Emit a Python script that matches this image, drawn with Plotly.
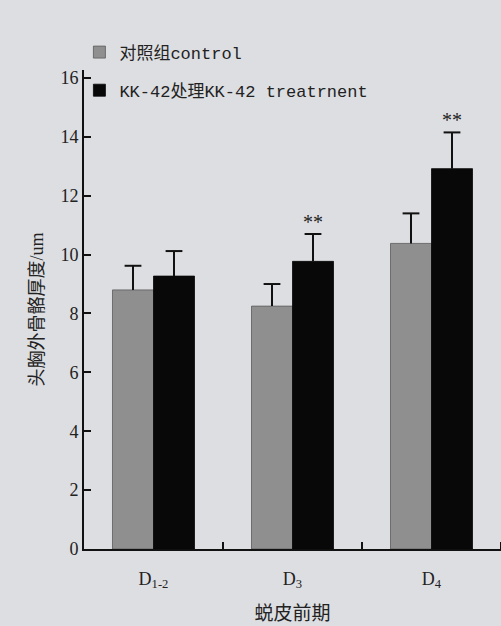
import plotly.graph_objects as go

categories = ["D<sub>1-2</sub>", "D<sub>3</sub>", "D<sub>4</sub>"]
control = [8.80, 8.25, 10.38]
control_err = [0.82, 0.75, 1.02]
treatment = [9.27, 9.77, 12.92]
treatment_err = [0.85, 0.93, 1.23]
significance = ["", "**", "**"]

xpos = list(range(len(categories)))
bg = "#dddee1"
serif = "Liberation Serif, Noto Sans CJK SC, serif"
mono = "Liberation Mono, Noto Sans CJK SC, monospace"
bargap = 0.41
bar_w = (1 - bargap) / 2

fig = go.Figure()
series = [
    ("对照组control", control, control_err, "#8f8f8f", "#5a5a5a", -1, "a"),
    ("KK-42处理KK-42 treatrnent", treatment, treatment_err, "#080808", "#080808", 1, "b"),
]
for name, vals, errs, col, lcol, side, grp in series:
    fig.add_trace(go.Bar(
        x=xpos, y=vals, name=name, legendgroup=grp,
        marker=dict(color=col, line=dict(color=lcol, width=0.8)),
        error_y=dict(type="data", array=errs, arrayminus=[0] * len(errs), symmetric=False,
                     color="#111111", thickness=2, width=0),
    ))
for name, vals, errs, col, lcol, side, grp in series:
    fig.add_trace(go.Scatter(
        x=[x + side * bar_w / 2 for x in xpos],
        y=[v + e for v, e in zip(vals, errs)],
        mode="markers", showlegend=False, hoverinfo="skip",
        marker=dict(symbol="line-ew", size=12, line=dict(color="#111111", width=2)),
    ))

for i, s in enumerate(significance):
    if s:
        fig.add_annotation(x=xpos[i] + bar_w / 2, y=treatment[i] + treatment_err[i],
                           text=s, showarrow=False, yanchor="bottom", yshift=-1,
                           font=dict(family=serif, size=20, color="#222222"))

fig.update_layout(
    width=501, height=626,
    paper_bgcolor=bg, plot_bgcolor=bg,
    margin=dict(l=84, r=0, t=70, b=77, autoexpand=False),
    barmode="group", bargap=bargap, bargroupgap=0,
    showlegend=True,
    legend=dict(x=-0.011, y=1.074, xanchor="left", yanchor="top",
                bgcolor="rgba(0,0,0,0)", tracegroupgap=13,
                font=dict(family=mono, size=17, color="#222222")),
    xaxis=dict(range=[-0.5, 2.5], tickvals=xpos, ticktext=categories, ticks="",
               showline=True, linecolor="#111111", linewidth=2, showgrid=False,
               zeroline=False, ticklabelstandoff=12, automargin=False,
               tickfont=dict(family=serif, size=18, color="#222222"),
               minor=dict(tickvals=[0.5, 1.5, 2.5], ticks="inside", ticklen=7,
                          tickwidth=2, tickcolor="#111111", showgrid=False),
               title=dict(text="蜕皮前期", standoff=16,
                          font=dict(family=serif, size=19, color="#222222"))),
    yaxis=dict(range=[0, 16.27], tickvals=[0, 2, 4, 6, 8, 10, 12, 14, 16],
               ticks="inside", ticklen=7, tickwidth=2, tickcolor="#111111",
               showline=True, linecolor="#111111", linewidth=2, showgrid=False,
               zeroline=False, automargin=False,
               tickfont=dict(family=serif, size=18, color="#222222"),
               title=dict(text="头胸外骨骼厚度/um", standoff=12,
                          font=dict(family=serif, size=18, color="#222222"))),
)

fig.write_html(
    "out.html",
    config={"displayModeBar": False},
    post_script="document.body.style.margin='0';document.body.style.overflow='hidden';",
)
